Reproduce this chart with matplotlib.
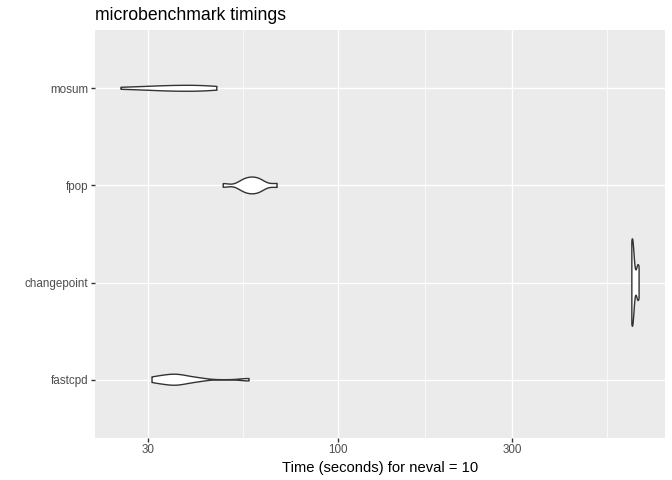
import numpy as np
import matplotlib
matplotlib.use("Agg")
import matplotlib.pyplot as plt
from matplotlib.ticker import FixedLocator, NullFormatter

plt.rcParams["font.family"] = ["Liberation Sans", "DejaVu Sans"]

# timings (seconds), 10 evaluations per method
methods = ["fastcpd", "changepoint", "fpop", "mosum"]
fastcpd = [30.8, 32.0, 33.5, 34.6, 35.4, 36.2, 37.3, 38.8, 41.5, 56.9]
changepoint = [640.0, 640.5, 641.5, 642.0, 643.0, 644.0, 645.5, 663.0, 666.0, 670.0]
fpop = [48.3, 54.0, 55.2, 56.3, 57.4, 58.5, 59.6, 60.7, 62.0, 67.9]
mosum = [25.3, 29.0, 31.5, 33.5, 35.5, 37.5, 39.5, 41.5, 44.0, 46.4]
timings = [fastcpd, changepoint, fpop, mosum]

x_breaks = [30, 100, 300]
x_minor = [54.77, 173.2, 547.7]


def bw_nrd0(v):
    sd = np.std(v, ddof=1)
    q75, q25 = np.percentile(v, [75, 25])
    lo = min(sd, (q75 - q25) / 1.34)
    if lo == 0:
        lo = sd
    return 0.9 * lo * len(v) ** -0.2


def violin_density(vals):
    # density on the log10 scale, trimmed to data range (ggplot default)
    v = np.log10(np.asarray(vals))
    bw = bw_nrd0(v)
    grid = np.linspace(v.min(), v.max(), 512)
    z = (grid[:, None] - v[None, :]) / bw
    dens = np.exp(-0.5 * z ** 2).sum(axis=1) / (len(v) * bw * np.sqrt(2 * np.pi))
    return grid, dens


curves = [violin_density(t) for t in timings]
max_d = max(d.max() for _, d in curves)

fig = plt.figure(figsize=(6.72, 4.8), dpi=100)
ax = fig.add_axes([95 / 672, 1 - 438 / 480, 570 / 672, 408 / 480])
ax.set_facecolor("#EBEBEB")

lo = np.log10(min(min(t) for t in timings))
hi = np.log10(max(max(t) for t in timings))
pad = (hi - lo) * 0.05

for i, (g, d) in enumerate(curves):
    y0 = i + 1
    half = d / max_d * 0.45
    xs = np.concatenate([g, g[::-1], g[:1]])
    ys = np.concatenate([y0 + half, (y0 - half)[::-1], [y0 + half[0]]])
    ax.fill(10 ** xs, ys, facecolor="white", edgecolor="#333333", linewidth=1.0, zorder=3)

ax.set_xscale("log")
ax.set_xlim(10 ** (lo - pad), 10 ** (hi + pad))
ax.set_ylim(0.4, len(methods) + 0.6)

ax.xaxis.set_major_locator(FixedLocator(x_breaks))
ax.xaxis.set_minor_locator(FixedLocator(x_minor))
ax.xaxis.set_minor_formatter(NullFormatter())
ax.set_xticklabels([str(b) for b in x_breaks])
ax.set_yticks(range(1, len(methods) + 1))
ax.set_yticklabels(methods)

ax.grid(which="major", color="white", linewidth=1.0, zorder=1)
ax.grid(which="minor", axis="x", color="white", linewidth=0.5, zorder=1)
ax.set_axisbelow(True)
for s in ax.spines.values():
    s.set_visible(False)

ax.tick_params(which="major", length=2.6, width=1.0, color="#333333",
               labelcolor="#4D4D4D", labelsize=8.4, pad=2)
ax.tick_params(which="minor", length=0)

ax.set_xlabel("Time (seconds) for neval = 10", fontsize=10.6, color="black", labelpad=3)
ax.set_title("microbenchmark timings", fontsize=12.7, loc="left", pad=7)

fig.savefig("out.png", dpi=100, facecolor="white")
